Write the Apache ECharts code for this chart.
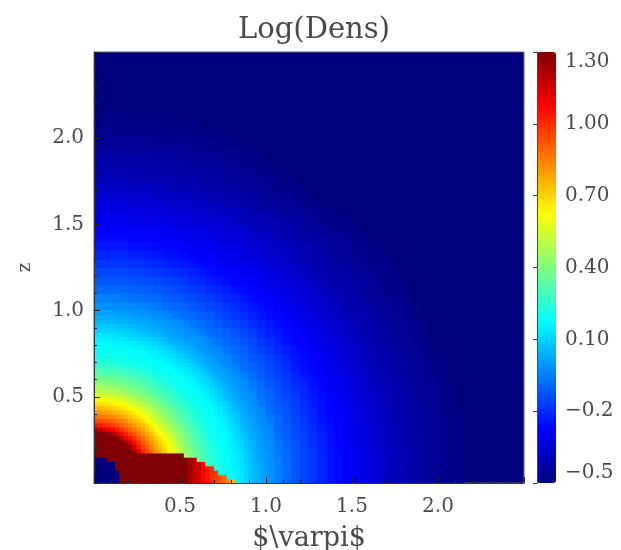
<!DOCTYPE html>
<html>
<head>
<meta charset="utf-8">
<style>
html, body { margin: 0; padding: 0; background: #fff; }
#main { width: 621px; height: 550px; }
</style>
</head>
<body>
<div id="main"></div>
<script src="https://cdn.jsdelivr.net/npm/echarts@6/dist/echarts.min.js"></script>
<script>
const xTicks = [0.5, 1.0, 1.5, 2.0];
const zTicks = [0.5, 1.0, 1.5, 2.0];
const barTicks = [1.3, 1.0, 0.7, 0.4, 0.1, -0.2, -0.5];
const barLabels = ['1.30', '1.00', '0.70', '0.40', '0.10', '\u22120.2', '\u22120.5'];

// log density x100. one row per 0.05 in z, one cell per 0.05 in x
// cells missing at the end of a row are the floor colour (grid background)
const coarseRows = [
  [130,130,130,130,130,130,111,91,77,65,53,43,35,28,22,19,16,12,7,2,-2,-5,-9,-12,-15,-18,-21,-24,-26,-28,-30,-32,-34,-36,-38,-40,-42,-43,-44,-46,-47,-48,-49],
  [130,130,130,130,130,130,106,89,75,64,52,42,34,27,22,19,16,11,6,2,-2,-5,-8,-12,-15,-18,-21,-24,-26,-28,-30,-32,-34,-36,-38,-40,-42,-43,-44,-46,-47,-48,-49],
  [130,130,130,130,130,127,100,85,73,61,50,41,33,26,23,19,15,11,6,1,-2,-5,-9,-12,-15,-18,-21,-24,-26,-28,-30,-32,-34,-36,-38,-40,-42,-43,-44,-46,-47,-48,-49],
  [130,130,130,130,130,110,93,80,69,58,47,39,31,25,20,18,15,10,5,1,-2,-6,-9,-12,-15,-18,-21,-24,-26,-28,-30,-32,-34,-36,-38,-40,-42,-43,-44,-46,-47,-48,-49],
  [130,130,130,130,116,97,85,74,64,53,44,36,29,24,20,18,14,9,4,0,-3,-7,-10,-13,-16,-19,-22,-25,-27,-29,-31,-33,-35,-37,-39,-41,-42,-43,-45,-46,-47,-48,-49],
  [130,130,127,110,97,87,77,67,58,48,40,33,27,22,19,16,12,7,3,-1,-4,-8,-11,-14,-16,-19,-22,-25,-27,-29,-31,-33,-35,-37,-39,-41,-42,-43,-45,-46,-47,-48,-49],
  [110,106,100,93,85,77,69,60,51,43,36,30,25,20,18,15,10,6,2,-2,-5,-9,-11,-14,-17,-20,-23,-25,-27,-29,-31,-33,-35,-37,-39,-41,-42,-43,-45,-46,-47,-48,-49],
  [91,89,85,80,74,67,60,52,45,38,32,26,22,19,17,13,8,4,0,-3,-6,-9,-12,-15,-18,-21,-24,-26,-28,-30,-32,-34,-36,-38,-40,-41,-42,-44,-45,-46,-48,-48,-49],
  [77,75,73,69,64,58,51,45,39,33,28,23,20,18,15,11,6,2,-1,-4,-8,-11,-13,-16,-19,-22,-25,-27,-28,-30,-32,-34,-36,-38,-40,-42,-43,-44,-45,-46,-48,-49],
  [65,64,61,58,53,48,43,38,33,28,24,20,19,16,12,8,4,0,-2,-6,-9,-12,-14,-17,-20,-23,-25,-27,-29,-31,-33,-35,-37,-39,-41,-42,-43,-45,-46,-47,-48,-49],
  [53,52,50,47,44,40,36,32,28,24,21,19,17,14,10,5,2,-1,-4,-8,-10,-13,-16,-18,-21,-24,-26,-28,-30,-32,-34,-35,-37,-39,-41,-42,-43,-45,-46,-47,-48,-49],
  [43,42,41,39,36,33,30,26,23,20,19,17,14,10,6,3,0,-3,-6,-9,-12,-14,-17,-20,-22,-25,-27,-29,-30,-32,-34,-36,-38,-40,-41,-42,-44,-45,-46,-47,-48,-49],
  [35,34,33,31,29,27,25,22,20,19,17,14,11,7,3,0,-2,-5,-8,-11,-13,-16,-18,-21,-24,-26,-28,-29,-31,-33,-35,-37,-39,-40,-42,-43,-44,-46,-47,-48,-49],
  [28,27,26,25,24,22,20,19,18,16,14,10,7,4,1,-2,-5,-8,-10,-12,-15,-17,-20,-23,-25,-27,-29,-30,-32,-34,-36,-38,-39,-41,-42,-43,-45,-46,-47,-48,-49],
  [22,22,21,20,20,19,18,17,15,12,10,6,3,1,-2,-4,-7,-9,-12,-14,-16,-19,-21,-24,-26,-28,-29,-31,-33,-35,-37,-39,-40,-42,-43,-44,-45,-46,-48,-48,-49],
  [19,19,19,18,18,16,15,13,11,8,5,3,0,-2,-4,-7,-9,-11,-14,-16,-18,-21,-23,-25,-27,-29,-30,-32,-34,-36,-37,-39,-41,-42,-43,-45,-46,-47,-48,-49],
  [16,16,15,15,14,12,10,8,6,4,2,0,-2,-5,-7,-9,-11,-13,-15,-18,-20,-22,-25,-27,-28,-30,-31,-33,-35,-37,-38,-40,-41,-43,-44,-45,-46,-47,-48,-49],
  [12,11,11,10,9,7,6,4,2,0,-1,-3,-5,-8,-9,-11,-13,-15,-17,-20,-22,-24,-26,-27,-29,-31,-33,-34,-36,-38,-39,-41,-42,-43,-45,-46,-47,-48,-49],
  [7,6,6,5,4,3,2,0,-1,-2,-4,-6,-8,-10,-12,-14,-15,-17,-20,-22,-24,-26,-27,-29,-30,-32,-34,-35,-37,-39,-40,-42,-43,-44,-45,-46,-47,-48,-49],
  [2,2,1,1,0,-1,-2,-3,-4,-6,-8,-9,-11,-12,-14,-16,-18,-20,-22,-24,-26,-27,-29,-30,-32,-33,-35,-37,-38,-40,-41,-42,-43,-45,-46,-47,-48,-49],
  [-2,-2,-2,-2,-3,-4,-5,-6,-8,-9,-10,-12,-13,-15,-16,-18,-20,-22,-24,-26,-27,-28,-30,-31,-33,-35,-36,-38,-39,-41,-42,-43,-44,-45,-46,-47,-48,-49],
  [-5,-5,-5,-6,-7,-8,-9,-9,-11,-12,-13,-14,-16,-17,-19,-21,-22,-24,-26,-27,-28,-30,-31,-33,-34,-36,-37,-39,-40,-42,-43,-44,-45,-46,-47,-48,-49],
  [-9,-9,-9,-9,-10,-11,-11,-12,-13,-14,-16,-17,-18,-20,-21,-23,-25,-26,-27,-29,-30,-31,-33,-34,-35,-37,-38,-40,-41,-42,-43,-45,-46,-47,-48,-48,-49],
  [-12,-12,-12,-12,-13,-14,-14,-15,-16,-17,-18,-20,-21,-23,-24,-25,-27,-27,-29,-30,-31,-33,-34,-35,-37,-38,-40,-41,-42,-43,-44,-45,-46,-47,-48,-49],
  [-15,-15,-15,-15,-16,-16,-17,-18,-19,-20,-21,-22,-24,-25,-26,-27,-28,-29,-30,-32,-33,-34,-35,-37,-38,-40,-41,-42,-43,-44,-45,-46,-47,-48,-48,-49],
  [-18,-18,-18,-18,-19,-19,-20,-21,-22,-23,-24,-25,-26,-27,-28,-29,-30,-31,-32,-33,-35,-36,-37,-38,-40,-41,-42,-43,-44,-45,-46,-47,-47,-48,-49],
  [-21,-21,-21,-21,-22,-22,-23,-24,-25,-25,-26,-27,-28,-28,-29,-30,-31,-33,-34,-35,-36,-37,-38,-39,-40,-42,-43,-44,-45,-46,-47,-47,-48,-49],
  [-24,-24,-24,-24,-25,-25,-25,-26,-27,-27,-28,-29,-29,-30,-31,-32,-33,-34,-35,-36,-37,-39,-39,-40,-41,-42,-43,-44,-45,-46,-47,-48,-48,-49],
  [-26,-26,-26,-26,-27,-27,-27,-28,-28,-29,-30,-30,-31,-32,-33,-34,-34,-35,-37,-38,-39,-40,-41,-42,-43,-44,-44,-45,-46,-47,-48,-49],
  [-28,-28,-28,-28,-29,-29,-29,-29,-30,-31,-31,-32,-33,-33,-34,-35,-36,-37,-38,-39,-40,-41,-42,-43,-44,-45,-46,-47,-47,-48,-49],
  [-30,-30,-30,-30,-31,-31,-31,-32,-32,-33,-33,-34,-35,-35,-36,-37,-38,-39,-40,-40,-41,-42,-43,-44,-45,-46,-47,-48,-48,-49],
  [-32,-32,-32,-32,-33,-33,-33,-34,-34,-35,-35,-36,-37,-37,-38,-39,-39,-40,-41,-42,-43,-44,-45,-46,-46,-47,-48,-49],
  [-34,-34,-34,-34,-35,-35,-35,-36,-36,-37,-37,-38,-38,-39,-40,-41,-41,-42,-43,-44,-45,-45,-46,-47,-48,-49],
  [-36,-36,-36,-36,-37,-37,-37,-38,-38,-39,-39,-40,-40,-41,-42,-42,-43,-44,-44,-45,-46,-47,-47,-48,-49],
  [-38,-38,-38,-38,-39,-39,-39,-40,-40,-41,-41,-41,-42,-43,-43,-44,-44,-45,-46,-46,-47,-48,-48,-49],
  [-40,-40,-40,-40,-41,-41,-41,-41,-42,-42,-42,-43,-43,-44,-44,-45,-45,-46,-46,-47,-48,-48,-49],
  [-42,-42,-42,-42,-42,-42,-42,-43,-43,-43,-44,-44,-44,-45,-45,-46,-46,-47,-47,-48,-48,-49],
  [-43,-43,-43,-43,-43,-43,-43,-44,-44,-45,-45,-45,-46,-46,-46,-47,-47,-48,-48,-49],
  [-44,-44,-44,-45,-45,-45,-45,-45,-45,-46,-46,-46,-47,-47,-47,-48,-48,-49,-49],
  [-46,-46,-46,-46,-46,-46,-46,-47,-47,-47,-47,-47,-48,-48,-48,-49,-49],
  [-47,-47,-47,-47,-47,-47,-47,-48,-48,-48,-48,-48,-49,-49,-49],
  [-48,-48,-48,-48,-48,-48,-48,-48,-49,-49,-49,-49],
  [-49,-49,-49,-49,-49,-49,-49,-49,-49,-49]
];

// same units, 0.025 cells for the hot corner near the origin, drawn over the coarse ones
const fineRows = [
  [-50,-50,-50,-50,-50,-50,130,130,130,130,130,130,130,130,130,130,130,130,130,130,130,130,124,119,115,108,104,100,97,92,88,82,75,15,13,10,8,5,3,1,-1,-2],
  [-50,-50,-50,-50,-50,-50,130,130,130,130,130,130,130,130,130,130,130,130,130,130,130,130,124,119,115,108,104,100,97,92,88,18,17,15,13,10,8,5,3,1,-1,-2],
  [-50,-50,-50,-50,-50,-50,130,130,130,130,130,130,130,130,130,130,130,130,130,130,130,130,124,119,115,108,104,100,97,21,19,18,17,15,13,10,8,5,3,1,-1,-2],
  [-50,-50,-50,-50,-50,130,130,130,130,130,130,130,130,130,130,130,130,130,130,130,130,130,124,119,115,108,104,100,23,21,19,18,16,15,13,10,8,5,3,1,-1,-2],
  [-50,-50,-50,-50,-50,130,130,130,130,130,130,130,130,130,130,130,130,130,130,130,130,130,124,119,115,108,29,26,23,21,19,18,16,14,12,10,8,5,3,1,-1,-2],
  [-50,-50,-50,130,130,130,130,130,130,130,130,130,130,130,130,130,130,130,130,130,130,130,124,119,34,31,28,25,22,20,19,18,16,14,12,9,7,4,2,0,-1,-3],
  [130,130,130,130,130,130,130,130,130,130,130,130,130,130,130,130,130,130,130,130,130,46,42,37,33,30,27,24,22,20,19,17,15,14,12,9,7,4,2,0,-1,-3],
  [130,130,130,130,130,130,130,130,130,125,112,102,94,88,81,76,70,65,59,54,49,44,40,37,33,29,26,24,21,20,18,17,15,13,11,9,7,4,2,0,-1,-3],
  [130,130,130,130,130,130,130,130,128,115,104,96,90,84,78,73,68,62,57,52,47,42,39,35,31,29,26,23,21,19,18,17,15,13,10,7,5,3,1,-1,-2,-3],
  [130,130,130,130,130,130,130,126,115,105,98,92,86,80,75,69,65,60,55,50,45,41,37,33,30,27,24,22,20,19,18,16,14,12,10,7,5,3,1,-1,-2,-3],
  [130,130,130,130,130,129,122,110,105,98,92,87,82,76,72,67,62,57,52,47,43,39,36,32,29,26,23,21,20,19,17,16,14,11,9,6,4,2,0,-1,-3],
  [130,130,129,128,122,116,108,102,96,92,87,82,77,73,68,63,58,53,49,45,41,37,34,30,28,25,22,20,19,18,17,15,13,10,8,6,3,2,0,-2,-3],
  [119,118,116,111,107,102,98,94,90,86,82,77,73,69,64,59,55,50,46,42,39,35,32,29,26,24,21,20,19,18,16,14,12,10,7,5,3,1,-1,-2,-3],
  [105,103,101,99,97,94,91,88,84,80,76,73,69,64,60,56,51,48,43,40,37,33,30,28,25,22,20,19,18,17,15,13,11,9,6,4,2,0,-1,-3],
  [95,94,93,92,90,87,85,82,78,75,72,68,64,60,56,52,48,44,41,38,34,31,29,26,24,21,20,19,18,16,15,13,10,8,5,3,2,0,-2,-3],
  [87,87,86,85,83,81,78,75,73,70,67,63,59,56,52,48,45,41,38,35,32,29,27,25,22,20,19,18,17,15,14,11,9,7,5,3,1,-1,-2],
  [80,80,79,78,76,75,73,70,68,65,62,58,55,51,48,45,42,39,36,33,30,28,25,23,21,20,19,18,16,15,12,10,8,6,3,2,0,-1,-3],
  [74,74,73,72,71,69,67,65,62,59,57,53,50,48,44,41,39,36,33,30,28,26,23,21,20,19,18,17,15,13,11,9,6,4,2,1,-1,-2],
  [68,68,67,66,65,63,61,59,57,54,52,49,46,43,41,38,36,33,30,28,26,24,22,20,19,18,17,16,14,12,10,8,5,3,2,0,-1,-3],
  [62,62,61,60,59,58,56,54,52,49,47,45,42,40,38,35,33,30,28,26,24,22,20,19,19,18,16,14,12,10,8,6,4,2,0,-1,-2],
  [56,56,55,54,53,52,50,49,47,45,43,41,39,37,34,32,30,28,26,24,22,21,19,19,18,17,15,13,11,9,7,5,3,1,0,-2,-3],
  [50,50,49,49,48,47,46,44,42,41,39,37,35,33,31,29,28,26,24,22,21,20,19,18,17,15,14,12,10,8,6,3,2,0,-1,-2],
  [46,46,45,44,43,42,41,40,39,37,36,34,32,30,29,27,25,23,22,20,19,19,18,17,15,14,13,10,8,6,4,3,1,0,-2,-3],
  [41,41,40,40,39,38,37,36,35,34,32,30,29,28,26,25,23,21,20,19,19,18,17,15,14,12,11,9,7,5,3,2,0,-1,-2],
  [37,37,36,36,35,34,34,32,31,30,29,28,26,25,24,22,21,20,19,19,18,17,15,14,12,11,9,7,5,3,2,1,-1,-2],
  [33,33,32,32,31,31,30,29,28,27,26,25,24,22,21,20,20,19,19,18,17,15,14,12,11,9,7,5,3,2,1,0,-2,-3],
  [30,30,29,29,28,28,27,26,25,25,23,22,21,20,20,19,19,18,17,16,15,14,13,10,9,7,5,3,2,1,0,-2,-3],
  [26,26,26,26,25,25,24,23,23,22,21,20,20,19,19,18,18,17,16,14,13,12,10,9,7,5,3,2,1,0,-2,-3],
  [23,23,23,23,22,22,21,21,20,20,20,19,19,18,18,17,16,15,14,12,11,10,8,6,5,3,2,1,-1,-2,-3],
  [21,21,21,21,20,20,20,19,19,19,19,18,18,17,16,15,15,13,12,10,9,8,6,5,3,2,1,-1,-2,-3],
  [19,19,19,19,19,19,19,19,18,18,17,17,16,15,15,14,12,11,10,8,7,6,4,3,2,0,-1,-2,-3],
  [19,19,19,18,18,18,18,17,17,16,15,15,14,13,13,11,10,9,8,6,5,3,3,2,0,-1,-2,-3],
  [17,17,17,17,16,16,16,15,15,14,14,13,12,11,10,9,8,6,5,4,3,2,1,0,-1,-2,-3],
  [15,15,15,15,14,14,14,13,12,12,11,10,10,9,8,7,6,4,3,2,2,0,0,-1,-2,-3],
  [13,13,13,13,12,12,11,11,10,10,9,8,7,6,5,5,3,2,2,0,0,-1,-2,-3],
  [10,10,10,10,10,9,9,8,8,7,6,6,5,4,3,3,2,1,0,-1,-2,-2,-3],
  [8,8,8,8,8,7,7,6,6,5,4,3,3,2,2,1,0,-1,-1,-2,-2,-3],
  [5,5,5,5,5,4,4,4,3,3,2,2,2,1,0,0,-1,-1,-2,-3],
  [3,3,3,3,3,2,2,2,2,1,1,0,0,-1,-1,-2,-2,-3],
  [1,1,1,1,1,0,0,0,-1,-1,-1,-2,-2,-3]
];

const coarseStep = 0.05;
const fineStep = 0.025;

function cellsFrom(rows, step) {
  let cells = [];
  rows.forEach((row, j) => {
    row.forEach((v, i) => {
      cells.push([(i + 0.5) * step, (j + 0.5) * step, v / 100, step]);
    });
  });
  return cells;
}

const serifFont = '"DejaVu Serif", serif';
const textColor = '#4a4a4a';

function renderCell(params, api) {
  let half = api.value(3) / 2;
  let p0 = api.coord([api.value(0) - half, api.value(1) + half]);
  let p1 = api.coord([api.value(0) + half, api.value(1) - half]);
  return {
    type: 'rect',
    shape: { x: p0[0] - 0.5, y: p0[1] - 0.5, width: p1[0] - p0[0] + 1, height: p1[1] - p0[1] + 1 },
    style: { fill: api.visual('color') }
  };
}

let chart = echarts.init(document.getElementById('main'));
chart.setOption({
  animation: false,
  backgroundColor: '#fff',
  title: {
    text: 'Log(Dens)',
    left: 309,
    top: 11,
    textAlign: 'center',
    textStyle: { fontFamily: serifFont, fontSize: 29, fontWeight: 'normal', color: textColor }
  },
  grid: [
    { left: 94, top: 52, width: 430, height: 431, outerBoundsMode: 'none', show: true, backgroundColor: '#00007f', borderColor: '#667', borderWidth: 1 },
    { left: 537, top: 52, width: 19, height: 431, outerBoundsMode: 'none' }
  ],
  xAxis: [
    {
      type: 'value',
      min: 0,
      max: 2.5,
      interval: 0.5,
      minorTick: { show: true, splitNumber: 5, length: 3, lineStyle: { color: '#223' } },
      splitLine: { show: false },
      minorSplitLine: { show: false },
      axisLine: { lineStyle: { color: '#334' } },
      axisTick: { inside: true, length: 6, lineStyle: { color: '#223' } },
      axisLabel: {
        customValues: xTicks,
        formatter: v => v.toFixed(1),
        margin: 14,
        fontFamily: serifFont,
        fontSize: 20,
        color: textColor
      },
      name: '$\\varpi$',
      nameLocation: 'middle',
      nameGap: 42,
      nameTextStyle: { fontFamily: serifFont, fontSize: 27, color: textColor },
      z: 10
    },
    { gridIndex: 1, type: 'value', min: 0, max: 1, show: false }
  ],
  yAxis: [
    {
      type: 'value',
      min: 0,
      max: 2.5,
      interval: 0.5,
      minorTick: { show: true, splitNumber: 5, length: 3, lineStyle: { color: '#223' } },
      splitLine: { show: false },
      minorSplitLine: { show: false },
      axisLine: { lineStyle: { color: '#334' } },
      axisTick: { inside: true, length: 6, lineStyle: { color: '#223' } },
      axisLabel: {
        customValues: zTicks,
        formatter: v => v.toFixed(1),
        margin: 10,
        fontFamily: serifFont,
        fontSize: 20,
        color: textColor
      },
      name: 'z',
      nameLocation: 'middle',
      nameRotate: 90,
      nameGap: 60,
      nameTextStyle: { fontFamily: serifFont, fontSize: 18, color: textColor },
      z: 10
    },
    {
      // tick labels of the colour bar
      gridIndex: 1,
      type: 'value',
      position: 'right',
      min: -0.5,
      max: 1.3,
      splitLine: { show: false },
      axisLine: { show: true, lineStyle: { color: '#445' } },
      axisTick: { show: true, inside: true, length: 4, customValues: barTicks, lineStyle: { color: '#334' } },
      axisLabel: {
        customValues: barTicks,
        formatter: v => barLabels[barTicks.findIndex(t => Math.abs(t - v) < 1e-6)],
        margin: 9,
        verticalAlignMaxLabel: 'bottom',
        verticalAlignMinLabel: 'top',
        fontFamily: serifFont,
        fontSize: 20,
        color: textColor
      },
      z: 10
    }
  ],
  visualMap: {
    type: 'continuous',
    seriesIndex: 0,
    dimension: 2,
    min: -0.5,
    max: 1.3,
    calculable: false,
    left: 537,
    top: 52,
    itemWidth: 19,
    itemHeight: 431,
    padding: 0,
    inRange: {
      color: ['#00007f', '#0000ff', '#007fff', '#00ffff', '#7fff7f', '#ffff00', '#ff7f00', '#ff0000', '#7f0000']
    }
  },
  series: [
    {
      type: 'custom',
      coordinateSystem: 'cartesian2d',
      renderItem: renderCell,
      clip: true,
      progressive: 0,
      encode: { x: 0, y: 1 },
      data: cellsFrom(coarseRows, coarseStep).concat(cellsFrom(fineRows, fineStep))
    }
  ]
});
</script>
</body>
</html>
